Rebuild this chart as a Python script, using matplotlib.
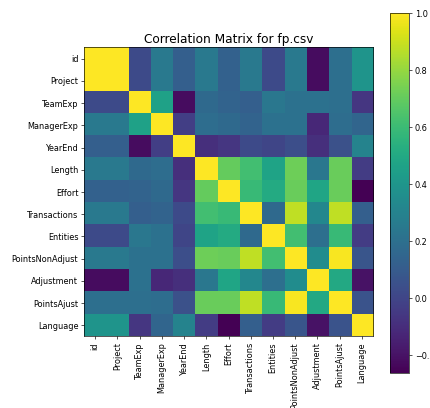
import numpy as np
import matplotlib
matplotlib.use("Agg")
import matplotlib.pyplot as plt

columns = ["id", "Project", "TeamExp", "ManagerExp", "YearEnd", "Length",
           "Effort", "Transactions", "Entities", "PointsNonAdjust",
           "Adjustment", "PointsAjust", "Language"]

# Pairwise Pearson correlations (row order = column order above)
corr_rows = [
    [1.00, 1.00, 0.02, 0.25, 0.12, 0.25, 0.13, 0.25, 0.02, 0.25, -0.22, 0.20, 0.39],
    [1.00, 1.00, 0.02, 0.25, 0.12, 0.25, 0.13, 0.25, 0.02, 0.25, -0.22, 0.20, 0.39],
    [0.02, 0.02, 1.00, 0.46, -0.22, 0.17, 0.14, 0.12, 0.24, 0.21, 0.21, 0.20, -0.06],
    [0.25, 0.25, 0.46, 1.00, -0.03, 0.19, 0.17, 0.14, 0.21, 0.21, -0.12, 0.19, 0.15],
    [0.12, 0.12, -0.22, -0.03, 1.00, -0.09, -0.06, 0.02, 0.00, 0.04, -0.09, 0.05, 0.30],
    [0.25, 0.25, 0.17, 0.19, -0.09, 1.00, 0.70, 0.62, 0.47, 0.72, 0.24, 0.71, -0.04],
    [0.13, 0.13, 0.14, 0.17, -0.06, 0.70, 1.00, 0.59, 0.51, 0.71, 0.48, 0.71, -0.262],
    [0.25, 0.25, 0.12, 0.14, 0.02, 0.62, 0.59, 1.00, 0.17, 0.88, 0.32, 0.88, 0.12],
    [0.02, 0.02, 0.24, 0.21, 0.00, 0.47, 0.51, 0.17, 1.00, 0.62, 0.20, 0.59, -0.04],
    [0.25, 0.25, 0.21, 0.21, 0.04, 0.72, 0.71, 0.88, 0.62, 1.00, 0.35, 0.99, 0.07],
    [-0.22, -0.22, 0.21, -0.12, -0.09, 0.24, 0.48, 0.32, 0.20, 0.35, 1.00, 0.50, -0.20],
    [0.20, 0.20, 0.20, 0.19, 0.05, 0.71, 0.71, 0.88, 0.59, 0.99, 0.50, 1.00, 0.06],
    [0.39, 0.39, -0.06, 0.15, 0.30, -0.04, -0.262, 0.12, -0.04, 0.07, -0.20, 0.06, 1.00],
]

title = "Correlation Matrix for fp.csv"

W, H = 430, 408
dpi = 58.24
fig = plt.figure(figsize=((W + 0.02) / dpi, (H + 0.02) / dpi), dpi=dpi, facecolor="w")

ax = fig.add_axes([84 / W, (H - 336.5) / H, 289 / W, 289 / H])
corr = np.array(corr_rows)
mat = ax.matshow(corr, aspect="auto")
n = len(columns)
ax.set_xticks(range(n))
ax.set_xticklabels(columns, rotation=90)
ax.set_yticks(range(n))
ax.set_yticklabels(columns)
ax.xaxis.tick_bottom()
ax.set_title(title, fontsize=15)

cax = fig.add_axes([390 / W, (H - 372.7) / H, 19.3 / W, 359.7 / H])
fig.colorbar(mat, cax=cax)

fig.savefig("out.png", dpi=dpi, facecolor="w")
